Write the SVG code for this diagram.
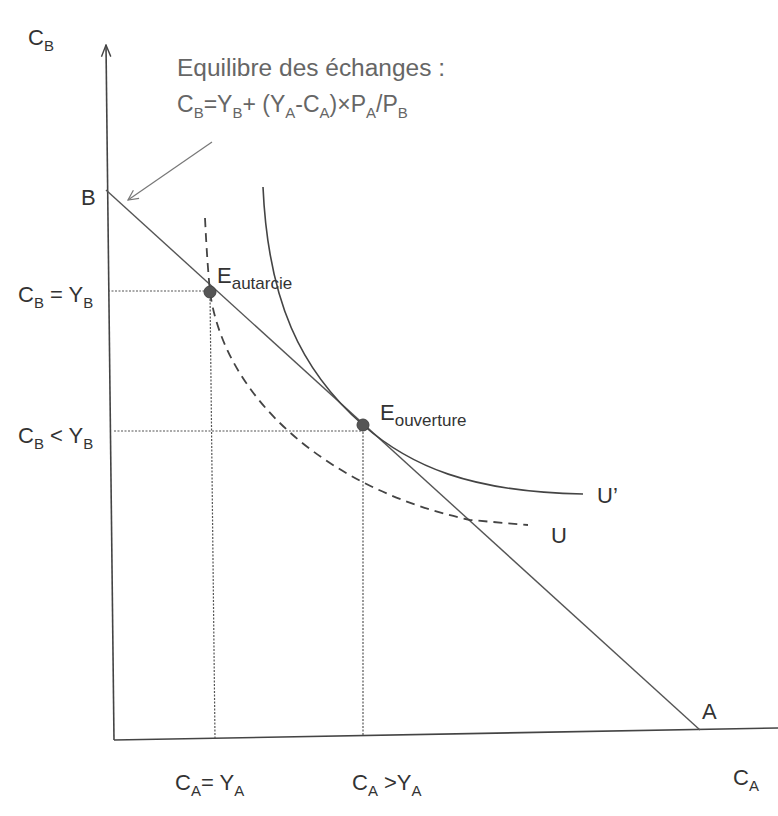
<svg xmlns="http://www.w3.org/2000/svg" width="778" height="816" viewBox="0 0 778 816">
<defs>
<marker id="open" viewBox="0 0 12 12" refX="11" refY="6" markerWidth="12" markerHeight="12" markerUnits="userSpaceOnUse" orient="auto">
<path d="M1,1 L11,6 L1,11" fill="none" stroke="#777" stroke-width="1.2"/>
</marker>
<marker id="axisArrow" viewBox="0 0 12 12" refX="11" refY="6" markerWidth="14" markerHeight="14" markerUnits="userSpaceOnUse" orient="auto">
<path d="M1,2 L11,6 L1,10" fill="none" stroke="#444" stroke-width="1.2"/>
</marker>
</defs>
<style>
text{font-family:"Liberation Sans","Noto Sans",sans-serif;fill:#333}
.lbl{font-size:22px}
.sub{font-size:17px}
.eq{fill:#666;font-size:23px}
.eqs{fill:#666;font-size:15px}
.axis{stroke:#444;stroke-width:1.6;fill:none}
.line{stroke:#555;stroke-width:1.4;fill:none}
.dot{stroke:#555;stroke-width:1.2;stroke-dasharray:2 1.5;fill:none}
.curve{stroke:#444;stroke-width:1.6;fill:none}
.dash{stroke:#444;stroke-width:1.8;stroke-dasharray:9 6;fill:none}
.pt{fill:#555;stroke:#444;stroke-width:1}
</style>
<rect width="778" height="816" fill="#fff"/>
<g id="connectors">
<line class="axis" x1="114" y1="740" x2="106" y2="45" marker-end="url(#axisArrow)"/>
<line class="axis" x1="114" y1="740" x2="778" y2="728"/>
<line class="line" x1="106" y1="190" x2="700" y2="730"/>
<line class="dot" x1="108" y1="291" x2="210" y2="291"/>
<line class="dot" x1="210" y1="292" x2="215" y2="739"/>
<line class="dot" x1="114" y1="431" x2="363" y2="431"/>
<line class="dot" x1="363" y1="425" x2="363" y2="736"/>
<path class="dash" d="M205,218 Q207,260 210,292 C225,400 330,490 470,520 L528,525"/>
<path class="curve" d="M263,187 C268,300 300,370 363,425 C410,466 470,492 583,494"/>
<line x1="212" y1="142" x2="128" y2="200" stroke="#777" stroke-width="1.2" marker-end="url(#open)"/>
</g>
<g id="E_autarcie">
<circle class="pt" cx="210" cy="292" r="6"/>
<text x="217" y="283" class="lbl">E<tspan class="sub" dy="6">autarcie</tspan></text>
</g>
<g id="E_ouverture">
<circle class="pt" cx="363" cy="425" r="6"/>
<text x="380" y="420" class="lbl">E<tspan class="sub" dy="6">ouverture</tspan></text>
</g>
<g id="labels">
<text x="28" y="45" class="lbl">C<tspan font-size="15" dy="6">B</tspan></text>
<text x="177" y="76" class="eq" font-size="25" textLength="268" lengthAdjust="spacingAndGlyphs">Equilibre des échanges :</text>
<text x="177" y="112" class="eq">C<tspan class="eqs" dy="6">B</tspan><tspan dy="-6">=Y</tspan><tspan class="eqs" dy="6">B</tspan><tspan dy="-6">+ (Y</tspan><tspan class="eqs" dy="6">A</tspan><tspan dy="-6">-C</tspan><tspan class="eqs" dy="6">A</tspan><tspan dy="-6">)×P</tspan><tspan class="eqs" dy="6">A</tspan><tspan dy="-6">/P</tspan><tspan class="eqs" dy="6">B</tspan></text>
<text x="81" y="205" class="lbl">B</text>
<text x="18" y="302" class="lbl">C<tspan font-size="15" dy="6">B</tspan><tspan dy="-6"> = Y</tspan><tspan font-size="15" dy="6">B</tspan></text>
<text x="18" y="443" class="lbl">C<tspan font-size="15" dy="6">B</tspan><tspan dy="-6"> &lt; Y</tspan><tspan font-size="15" dy="6">B</tspan></text>
<text x="597" y="503" class="lbl">U’</text>
<text x="551" y="543" class="lbl">U</text>
<text x="702" y="719" class="lbl">A</text>
<text x="175" y="790" class="lbl">C<tspan font-size="15" dy="6">A</tspan><tspan dy="-6">= Y</tspan><tspan font-size="15" dy="6">A</tspan></text>
<text x="352" y="790" class="lbl">C<tspan font-size="15" dy="6">A</tspan><tspan dy="-6"> &gt;Y</tspan><tspan font-size="15" dy="6">A</tspan></text>
<text x="733" y="785" class="lbl">C<tspan font-size="15" dy="6">A</tspan></text>
</g>
</svg>
